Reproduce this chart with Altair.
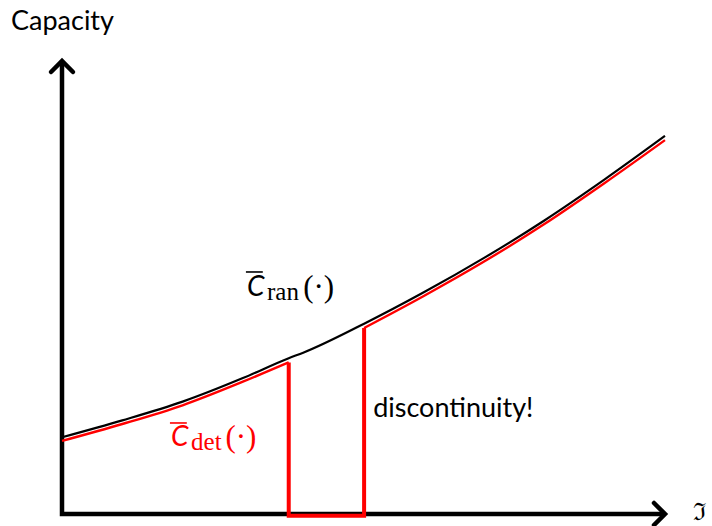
import altair as alt
import pandas as pd

# Randomised-coding capacity curve
ran_x = [0, 1, 2, 3, 3.76, 4, 5.01, 6, 7, 8, 9, 10]
ran_y = [1.27, 1.55, 1.86, 2.25, 2.58, 2.67, 3.15, 3.67, 4.24, 4.86, 5.54, 6.26]

# Deterministic-coding capacity: left branch, right branch
det_left_x = [0, 1, 2, 3, 3.76]
det_left_y = [1.21, 1.49, 1.80, 2.19, 2.51]
det_right_x = [5.01, 6, 7, 8, 9, 10]
det_right_y = [3.08, 3.61, 4.18, 4.80, 5.48, 6.19]

# Discontinuity: drop to zero and jump back
jump_x = [3.76, 3.76, 5.01, 5.01]
jump_y = [2.51, -0.03, -0.03, 3.08]

X_MAX = 10.0
Y_MAX = 7.5

xs = alt.Scale(domain=[0, X_MAX], nice=False, zero=False)
ys = alt.Scale(domain=[0, Y_MAX], nice=False, zero=False)


def path_df(xv, yv):
    return pd.DataFrame({"x": xv, "y": yv, "i": list(range(len(xv)))})


def line_layer(df, color, width):
    return alt.Chart(df).mark_line(
        color=color, strokeWidth=width, interpolate="monotone", strokeCap="butt"
    ).encode(
        x=alt.X("x:Q", scale=xs, axis=None),
        y=alt.Y("y:Q", scale=ys, axis=None),
        order="i:Q",
    )


# Axes with arrow heads
axes_df = path_df([0, 0, X_MAX], [Y_MAX, 0, 0])
axes = alt.Chart(axes_df).mark_line(
    color="black", strokeWidth=4.5, strokeJoin="miter", strokeCap="butt"
).encode(
    x=alt.X("x:Q", scale=xs, axis=None),
    y=alt.Y("y:Q", scale=ys, axis=None),
    order="i:Q",
)

up_head = alt.Chart(pd.DataFrame({"x": [0], "y": [Y_MAX]})).mark_point(
    shape="M-1,1L0,0L1,1", size=484, filled=False, color="black",
    strokeWidth=4.5, strokeCap="round", strokeJoin="miter", opacity=1,
).encode(x=alt.X("x:Q", scale=xs, axis=None), y=alt.Y("y:Q", scale=ys, axis=None))

right_head = alt.Chart(pd.DataFrame({"x": [X_MAX], "y": [0]})).mark_point(
    shape="M-1,-1L0,0L-1,1", size=484, filled=False, color="black",
    strokeWidth=4.5, strokeCap="round", strokeJoin="miter", opacity=1,
).encode(x=alt.X("x:Q", scale=xs, axis=None), y=alt.Y("y:Q", scale=ys, axis=None))

ran_line = line_layer(path_df(ran_x, ran_y), "black", 2.2)
det_left = line_layer(path_df(det_left_x, det_left_y), "#ff0000", 2.4)
det_right = line_layer(path_df(det_right_x, det_right_y), "#ff0000", 2.4)
jump = alt.Chart(path_df(jump_x, jump_y)).mark_line(
    color="#ff0000", strokeWidth=4, strokeJoin="miter", strokeCap="butt"
).encode(
    x=alt.X("x:Q", scale=xs, axis=None),
    y=alt.Y("y:Q", scale=ys, axis=None),
    order="i:Q",
)


def label(x, y, txt, color="black", size=27, font="Lato", style="normal", align="left"):
    return alt.Chart(pd.DataFrame({"x": [x], "y": [y], "t": [txt]})).mark_text(
        align=align, baseline="alphabetic", fontSize=size, font=font,
        fontStyle=style, color=color,
    ).encode(
        x=alt.X("x:Q", scale=xs, axis=None),
        y=alt.Y("y:Q", scale=ys, axis=None),
        text="t:N",
    )


def overline(x1, x2, y, color):
    return alt.Chart(pd.DataFrame({"x": [x1], "x2": [x2], "y": [y]})).mark_rule(
        color=color, strokeWidth=1.6
    ).encode(
        x=alt.X("x:Q", scale=xs, axis=None),
        x2="x2:Q",
        y=alt.Y("y:Q", scale=ys, axis=None),
    )


texts = [
    label(-0.846, 8.01, "Capacity"),
    label(10.58, -0.10, "ℑ", size=24, font="DejaVu Serif", align="center"),
    label(5.16, 1.606, "discontinuity!"),
    # C_ran(.)
    label(3.068, 3.61, "C", size=28, style="italic"),
    overline(3.05, 3.33, 4.007, "black"),
    label(3.40, 3.543, "ran", size=25, font="Liberation Serif"),
    label(4.00, 3.593, "(·)", size=31, font="Liberation Serif"),
    # C_det(.)
    label(1.808, 1.126, "C", color="#ff0000", size=28, style="italic"),
    overline(1.79, 2.07, 1.507, "#ff0000"),
    label(2.14, 1.06, "det", color="#ff0000", size=25, font="Liberation Serif"),
    label(2.71, 1.109, "(·)", color="#ff0000", size=31, font="Liberation Serif"),
]

chart = alt.layer(
    axes, up_head, right_head, det_left, det_right, jump, ran_line, *texts
).properties(
    width=603,
    height=453,
    padding={"left": 62, "top": 61, "right": 47, "bottom": 12},
    autosize=alt.AutoSizeParams(type="none"),
).configure_view(stroke=None)

chart.save("out.html", embed_options={"renderer": "svg", "actions": False})
